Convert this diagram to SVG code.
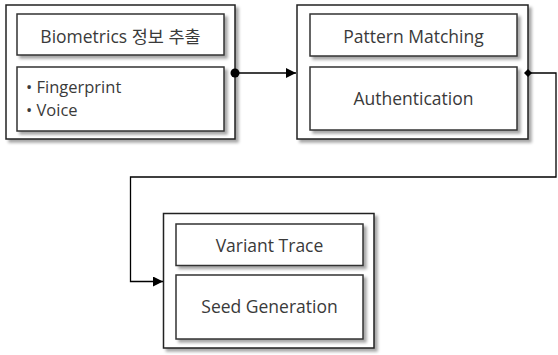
<svg xmlns="http://www.w3.org/2000/svg" width="558" height="355" viewBox="0 0 558 355">
  <defs>
    <filter id="shadow" x="-10%" y="-10%" width="125%" height="125%">
      <feDropShadow dx="3" dy="3" stdDeviation="1.6" flood-color="#000" flood-opacity="0.35"/>
    </filter>
    <marker id="arrow" viewBox="0 0 10 10" refX="10" refY="5" markerWidth="10" markerHeight="10" markerUnits="userSpaceOnUse" orient="auto">
      <path d="M0,0 L10,5 L0,10 z" fill="#000"/>
    </marker>
    <marker id="dot" viewBox="0 0 10 10" refX="5" refY="5" markerWidth="10" markerHeight="10" markerUnits="userSpaceOnUse">
      <circle cx="5" cy="5" r="4.5" fill="#000"/>
    </marker>
    <marker id="diamond" viewBox="0 0 10 10" refX="5" refY="5" markerWidth="8" markerHeight="8" markerUnits="userSpaceOnUse">
      <path d="M5,0 L10,5 L5,10 L0,5 z" fill="#000"/>
    </marker>
  </defs>
  <style>
    .outer { fill: #fff; stroke: #222; stroke-width: 1.5; filter: url(#shadow); }
    .inner { fill: #fff; stroke: #333; stroke-width: 1.5; filter: url(#shadow); }
    .label { font-family: "Open Sans", "Noto Sans", "Noto Sans CJK KR", sans-serif; font-size: 17.5px; fill: #3a3a3a; }
    .item { font-size: 16.5px; }
    .mid { text-anchor: middle; }
    .wire { fill: none; stroke: #000; stroke-width: 1.3; }
  </style>

  <rect width="558" height="355" fill="#fff"/>

  <!-- biometric extraction stage -->
  <g id="extract">
    <rect class="outer" x="6" y="5" width="229" height="134"/>
    <rect class="inner" x="17" y="14" width="207" height="41"/>
    <text class="label mid" x="120.5" y="42.5">Biometrics 정보 추출</text>
    <rect class="inner" x="17" y="67" width="207" height="64"/>
    <text class="label item" x="26" y="93">• Fingerprint</text>
    <text class="label item" x="26" y="116">• Voice</text>
  </g>

  <!-- matching / authentication stage -->
  <g id="authenticate">
    <rect class="outer" x="297" y="5" width="231" height="134"/>
    <rect class="inner" x="310" y="14" width="207" height="42"/>
    <text class="label mid" x="413.5" y="43">Pattern Matching</text>
    <rect class="inner" x="310" y="67" width="207" height="63"/>
    <text class="label mid" x="413.5" y="105">Authentication</text>
  </g>

  <!-- seed generation stage -->
  <g id="seed">
    <rect class="outer" x="163.5" y="213.5" width="210.5" height="134.5"/>
    <rect class="inner" x="176" y="224" width="187" height="41.5"/>
    <text class="label mid" x="269.5" y="252">Variant Trace</text>
    <rect class="inner" x="176" y="275" width="187" height="64"/>
    <text class="label mid" x="269.5" y="313">Seed Generation</text>
  </g>

  <!-- connectors -->
  <g id="connectors">
    <path class="wire" d="M235,73 H296" marker-start="url(#dot)" marker-end="url(#arrow)"/>
    <path class="wire" d="M528,73 H556 V177 H130.5 V281.5 H163" marker-start="url(#diamond)" marker-end="url(#arrow)"/>
  </g>
</svg>
